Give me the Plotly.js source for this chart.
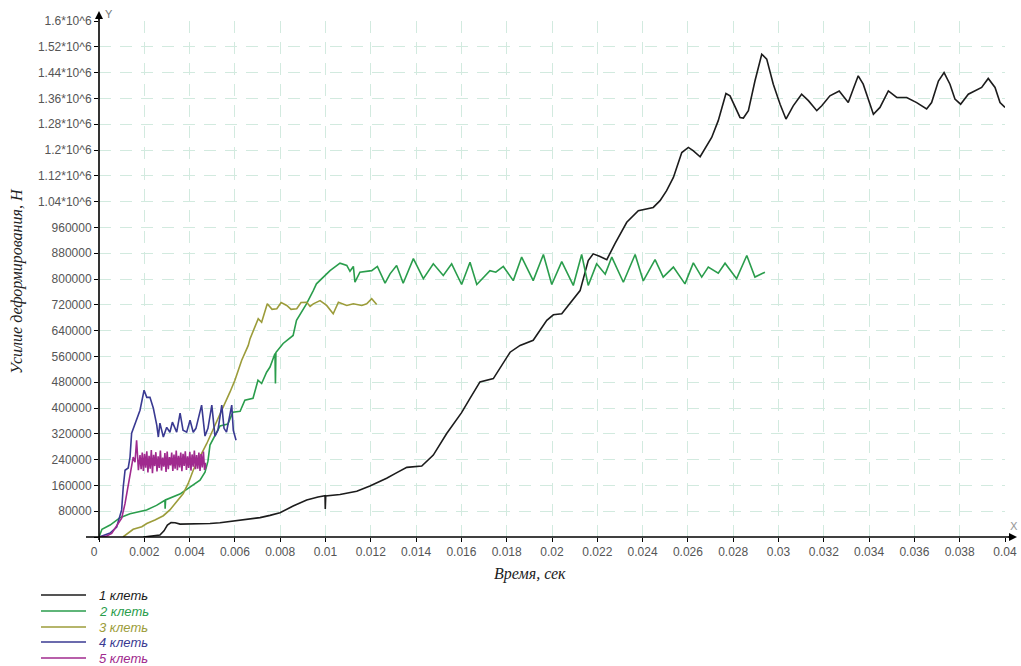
<!DOCTYPE html>
<html>
<head>
<meta charset="utf-8">
<script src="https://cdn.plot.ly/plotly-3.0.1.min.js"></script>
<style>html,body{margin:0;padding:0;background:#fff;}#chart{width:1021px;height:666px;}</style>
</head>
<body>
<div id="chart"></div>
<script>
// ---- Data (time in s, force in N) ----
const seriesNames = ["1 клеть", "2 клеть", "3 клеть", "4 клеть", "5 клеть"];
const seriesColors = ["#1c1c1c", "#2a9d4c", "#9c9c3a", "#3a3a92", "#a02a8e"];

const t1 = [0.00196,0.00234,0.00269,0.00287,0.00302,0.00318,0.00336,0.00358,0.00402,0.00446,0.0049,0.00534,0.00578,0.00623,0.00667,0.00711,0.00755,0.00799,0.00857,0.00917,0.00967,0.00998,0.00999,0.01001,0.01064,0.01138,0.01196,0.0127,0.01311,0.01359,0.01425,0.01476,0.01535,0.016,0.01638,0.01682,0.01741,0.01779,0.01815,0.01859,0.01917,0.01977,0.02006,0.02043,0.0208,0.02124,0.0216,0.02182,0.02212,0.02242,0.02278,0.0233,0.02381,0.02447,0.02477,0.02506,0.02536,0.02573,0.02602,0.02623,0.02654,0.02705,0.02734,0.02768,0.02786,0.0283,0.02845,0.02867,0.02896,0.02926,0.02948,0.02977,0.03007,0.03033,0.03065,0.03102,0.03132,0.03169,0.03191,0.03227,0.03268,0.03308,0.0333,0.03352,0.03374,0.03404,0.03419,0.03448,0.03485,0.03522,0.03566,0.0361,0.03654,0.03676,0.03706,0.03731,0.03757,0.03779,0.03804,0.03838,0.03875,0.03897,0.03926,0.03956,0.03978,0.04];
const v1 = [0,2e3,6e3,19e3,37e3,45e3,44e3,40e3,40e3,40e3,42e3,44e3,48e3,50e3,54e3,60e3,67e3,75e3,96e3,115e3,124e3,128e3,87e3,127e3,132e3,142e3,158e3,182e3,198e3,216e3,220e3,254e3,321e3,385e3,430e3,481e3,491e3,532e3,573e3,594e3,610e3,672e3,689e3,692e3,724e3,764e3,857e3,878e3,870e3,860e3,910e3,976e3,1012e3,1022e3,1043e3,1074e3,1115e3,1192e3,1208e3,1198e3,1179e3,1239e3,1291e3,1375e3,1368e3,1301e3,1299e3,1322e3,1414e3,1497e3,1482e3,1404e3,1342e3,1296e3,1337e3,1373e3,1353e3,1322e3,1337e3,1368e3,1383e3,1347e3,1389e3,1430e3,1404e3,1342e3,1311e3,1332e3,1383e3,1363e3,1363e3,1347e3,1327e3,1347e3,1414e3,1440e3,1404e3,1358e3,1342e3,1373e3,1386e3,1394e3,1422e3,1394e3,1347e3,1332e3];

const t2 = [0,0.00013,0.00049,0.00093,0.00137,0.0021,0.00254,0.00291,0.00292,0.00294,0.00357,0.00402,0.00446,0.00468,0.00481,0.0049,0.00512,0.00534,0.00569,0.00591,0.00623,0.00644,0.0068,0.00702,0.00718,0.0074,0.00755,0.00777,0.00779,0.00781,0.00813,0.00857,0.00872,0.00916,0.00946,0.0096,0.0102,0.01064,0.01094,0.01108,0.01123,0.0113,0.01152,0.01174,0.01204,0.01229,0.01241,0.01263,0.01285,0.01314,0.01343,0.01388,0.01432,0.01476,0.0152,0.01557,0.01601,0.01638,0.01668,0.01726,0.01752,0.01785,0.01829,0.01866,0.01917,0.01962,0.01999,0.02043,0.02094,0.02131,0.0216,0.02197,0.02235,0.02264,0.02315,0.02367,0.02403,0.02455,0.02491,0.02536,0.02587,0.02624,0.02661,0.0269,0.02734,0.02764,0.02815,0.0286,0.02896,0.0294];
const v2 = [0,24e3,37e3,60e3,72e3,84e3,98e3,114e3,88e3,115e3,133e3,155e3,176e3,201e3,235e3,285e3,313e3,344e3,350e3,387e3,390e3,424e3,430e3,486e3,476e3,511e3,527e3,569e3,476e3,572e3,600e3,625e3,672e3,723e3,764e3,785e3,826e3,849e3,842e3,824e3,839e3,790e3,821e3,824e3,826e3,839e3,821e3,787e3,816e3,842e3,787e3,863e3,801e3,847e3,811e3,847e3,783e3,852e3,783e3,826e3,821e3,839e3,795e3,868e3,795e3,876e3,783e3,854e3,780e3,876e3,780e3,847e3,815e3,868e3,790e3,876e3,794e3,860e3,806e3,837e3,785e3,850e3,806e3,837e3,818e3,849e3,801e3,873e3,806e3,821e3];

const t3 = [0.00106,0.00129,0.00151,0.00189,0.00211,0.00247,0.00284,0.00313,0.00343,0.00372,0.00394,0.00416,0.00446,0.00476,0.0052,0.00549,0.00578,0.006,0.0063,0.00659,0.00667,0.00703,0.00718,0.00743,0.00764,0.00785,0.00804,0.00829,0.00848,0.00873,0.00892,0.00917,0.00932,0.00946,0.00976,0.01005,0.01034,0.01057,0.01094,0.01123,0.0116,0.01182,0.01204,0.01226];
const v3 = [0,11e3,24e3,32e3,42e3,53e3,66e3,84e3,109e3,135e3,166e3,207e3,249e3,290e3,359e3,403e3,449e3,486e3,548e3,594e3,615e3,677e3,666e3,723e3,706e3,708e3,727e3,718e3,706e3,708e3,727e3,728e3,715e3,723e3,733e3,718e3,692e3,728e3,718e3,723e3,718e3,723e3,739e3,721e3];

const t4 = [0,0.00049,0.00078,0.001,0.00107,0.00115,0.00129,0.00137,0.00144,0.00159,0.00181,0.00199,0.00211,0.00225,0.0024,0.00255,0.00262,0.00269,0.00284,0.00299,0.00313,0.00324,0.00343,0.00358,0.00371,0.00387,0.00402,0.00416,0.00428,0.00453,0.00468,0.00481,0.00498,0.00512,0.00525,0.00542,0.00552,0.00563,0.00586,0.00593,0.00605];
const v4 = [0,12e3,31e3,84e3,155e3,207e3,214e3,248e3,322e3,353e3,393e3,455e3,433e3,433e3,399e3,347e3,310e3,353e3,310e3,340e3,325e3,356e3,325e3,384e3,331e3,325e3,362e3,325e3,337e3,409e3,313e3,337e3,409e3,313e3,331e3,409e3,337e3,325e3,409e3,331e3,300e3];

const t5 = [0,0.00034,0.00056,0.00071,0.00085,0.001,0.00115,0.0013,0.00144,0.00151,0.00159,0.00166,0.00174,0.00181,0.00186,0.00191,0.00196,0.00201,0.00206,0.00211,0.00216,0.00221,0.00226,0.00231,0.00236,0.00241,0.00246,0.00251,0.00256,0.00261,0.00266,0.00271,0.00276,0.00281,0.00286,0.00291,0.00296,0.00301,0.00306,0.00311,0.00316,0.00321,0.00326,0.00331,0.00336,0.00341,0.00346,0.00351,0.00356,0.00361,0.00366,0.00371,0.00376,0.00381,0.00386,0.00391,0.00396,0.00401,0.00406,0.00411,0.00416,0.00421,0.00426,0.00431,0.00436,0.00441,0.00446,0.00451,0.00456,0.00461,0.00466,0.00469,0.00471];
const v5 = [0,3e3,11e3,27e3,42e3,58e3,104e3,165e3,223e3,248e3,232e3,300e3,207e3,254e3,210e3,262e3,205e3,258e3,215e3,266e3,200e3,252e3,212e3,270e3,198e3,255e3,220e3,263e3,203e3,250e3,214e3,268e3,206e3,246e3,218e3,260e3,202e3,265e3,210e3,248e3,222e3,262e3,205e3,256e3,212e3,268e3,207e3,252e3,216e3,262e3,204e3,258e3,220e3,266e3,208e3,250e3,214e3,264e3,206e3,256e3,218e3,268e3,210e3,254e3,212e3,262e3,205e3,257e3,216e3,265e3,208e3,230e3,212e3];

const xTickVals = [0,0.002,0.004,0.006,0.008,0.01,0.012,0.014,0.016,0.018,0.02,0.022,0.024,0.026,0.028,0.03,0.032,0.034,0.036,0.038,0.04];
const xTickText = ["0\u00a0\u00a0\u00a0","0.002","0.004","0.006","0.008","0.01","0.012","0.014","0.016","0.018","0.02","0.022","0.024","0.026","0.028","0.03","0.032","0.034","0.036","0.038","0.04"];
const yTickVals = [0,80000,160000,240000,320000,400000,480000,560000,640000,720000,800000,880000,960000,1040000,1120000,1200000,1280000,1360000,1440000,1520000,1600000];
const yTickText = ["","80000","160000","240000","320000","400000","480000","560000","640000","720000","800000","880000","960000","1.04*10^6","1.12*10^6","1.2*10^6","1.28*10^6","1.36*10^6","1.44*10^6","1.52*10^6","1.6*10^6"];

const xTitle = "Время, сек";
const yTitle = "Усилие деформирования, Н";

// ---- Build ----
const xs = [t1, t2, t3, t4, t5];
const ys = [v1, v2, v3, v4, v5];
const traces = xs.map((x, i) => ({
  x: x, y: ys[i], type: "scatter", mode: "lines", name: seriesNames[i],
  line: {color: seriesColors[i], width: 1.6}, showlegend: false
}));

// pixel helpers for paper coords (plot area: x 99..1005, y 21..537)
const PW = 906, PH = 516;
const px = p => (p - 99) / PW;
const py = p => (537 - p) / PH;

const shapes = [
  {type: "line", xref: "paper", yref: "paper", x0: 0, x1: 0, y0: py(540), y1: py(14), line: {color: "#000", width: 1.6}},
  {type: "line", xref: "paper", yref: "paper", x0: px(86), x1: px(1013), y0: 0, y1: 0, line: {color: "#000", width: 1.6}}
];
const annotations = [
  {xref: "paper", yref: "paper", x: 0, y: py(11), ax: 0, ay: 10, text: "", showarrow: true, arrowhead: 2, arrowsize: 1, arrowwidth: 1.6, arrowcolor: "#000"},
  {xref: "paper", yref: "paper", x: px(1017), y: 0, ax: -10, ay: 0, text: "", showarrow: true, arrowhead: 2, arrowsize: 1, arrowwidth: 1.6, arrowcolor: "#000"},
  {xref: "paper", yref: "paper", x: px(103), y: py(14), xanchor: "left", yanchor: "middle", text: "Y", showarrow: false, font: {family: "Liberation Sans, Arial", size: 11, color: "#777"}},
  {xref: "paper", yref: "paper", x: px(1014), y: py(526), xanchor: "center", yanchor: "middle", text: "X", showarrow: false, font: {family: "DejaVu Sans", size: 11, color: "#999"}},
  {xref: "paper", yref: "paper", x: px(530), y: py(574), xanchor: "center", yanchor: "middle", text: "<i>" + xTitle + "</i>", showarrow: false, font: {family: "Liberation Serif, Times New Roman", size: 16, color: "#222"}},
  {xref: "paper", yref: "paper", x: px(17), y: py(281), xanchor: "center", yanchor: "middle", textangle: -90, text: "<i>" + yTitle + "</i>", showarrow: false, font: {family: "Liberation Serif, Times New Roman", size: 16, color: "#222"}}
];
const legendY = [595, 611, 627, 642, 658];
seriesNames.forEach((n, i) => {
  shapes.push({type: "line", xref: "paper", yref: "paper", x0: px(41), x1: px(86), y0: py(legendY[i]), y1: py(legendY[i]), line: {color: seriesColors[i], width: 1.6}});
  annotations.push({xref: "paper", yref: "paper", x: px(97), y: py(legendY[i]), xanchor: "left", yanchor: "middle", text: "<i>" + n + "</i>", showarrow: false, font: {family: "Liberation Sans, Arial", size: 13, color: seriesColors[i]}});
});

const gridStyle = {gridcolor: "#d2eadf", gridwidth: 1, griddash: "12px,9px"};
const layout = {
  width: 1021, height: 666,
  margin: {l: 99, r: 16, t: 21, b: 129, pad: 0},
  paper_bgcolor: "#fff", plot_bgcolor: "#fff",
  showlegend: false,
  xaxis: Object.assign({
    range: [0, 0.04], tickmode: "array", tickvals: xTickVals, ticktext: xTickText,
    ticks: "outside", ticklen: 4, tickcolor: "#000", tickwidth: 1,
    showline: false, zeroline: false,
    tickfont: {family: "Liberation Sans, Arial", size: 12, color: "#555"}
  }, gridStyle),
  yaxis: Object.assign({
    range: [0, 1600000], tickmode: "array", tickvals: yTickVals, ticktext: yTickText,
    ticks: "outside", ticklen: 4, tickcolor: "#000", tickwidth: 1,
    showline: false, zeroline: false,
    tickfont: {family: "Liberation Sans, Arial", size: 12, color: "#555"}
  }, gridStyle),
  shapes: shapes,
  annotations: annotations
};

Plotly.newPlot("chart", traces, layout, {displayModeBar: false, staticPlot: true});
</script>
</body>
</html>
